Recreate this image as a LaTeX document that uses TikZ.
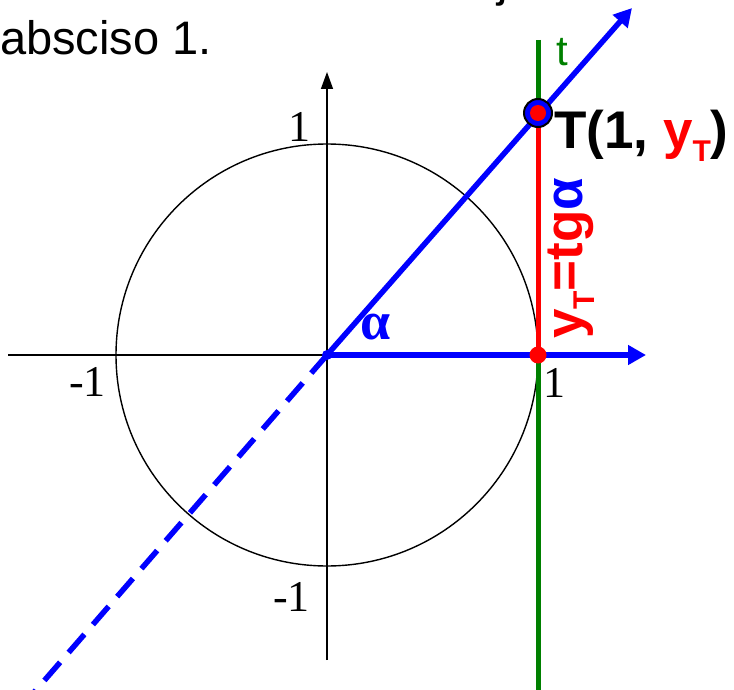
\documentclass[tikz,border=0pt]{standalone}
\usepackage{fontspec}
\setmainfont{Liberation Sans}
\newfontfamily\seriffont{Liberation Serif}
\usetikzlibrary{arrows.meta}
\definecolor{tgreen}{RGB}{0,128,0}
\definecolor{tblue}{RGB}{0,0,255}
\definecolor{tred}{RGB}{255,0,0}
\begin{document}
\begin{tikzpicture}[x=1pt,y=-1pt,
  axisline/.style={line width=1.4pt,black},
  bluethick/.style={line width=5.5pt,tblue},
  bluetip/.style={-{Triangle[length=18pt,width=19pt]}},
  reddot/.style={fill=tred,draw=none},
  axlabel/.style={font=\seriffont\fontsize{44}{50}\selectfont,inner sep=0pt},
  bigsans/.style={font=\fontsize{47}{56}\selectfont,inner sep=0pt}]
\useasboundingbox (0,0) rectangle (734,690);
% key points
\coordinate (O) at (327,355);
\coordinate (T) at (538,113);
\coordinate (A) at (538,355);
\coordinate (Xl) at (8,355);
\coordinate (Xr) at (640,355);
\coordinate (Yb) at (327,660);
\coordinate (Yt) at (327,72);
\coordinate (Dtip) at (632,8);
\coordinate (Dend) at (30,697);
\coordinate (Gt) at (538,40);
\coordinate (Gb) at (538,692);
\coordinate (Xtip) at (646,355);
% axes and circle
\draw[axisline] (Xl) -- (Xr);
\draw[axisline,-{Triangle[length=17pt,width=12pt]}] (Yb) -- (Yt);
\draw[axisline] (O) circle[radius=211pt];
% dashed extension
\draw[bluethick,dash pattern=on 24pt off 13pt] (O) -- (Dend);
% tangent line t
\draw[line width=5pt,tgreen] (Gt) -- (Gb);
% blue rays
\draw[bluethick,bluetip] (O) -- (Xtip);
\draw[bluethick,bluetip] (O) -- (Dtip);
\fill[tblue] (O) circle[radius=5pt];
% red segment
\draw[line width=5pt,tred] (A) -- (T);
\fill[reddot] (A) circle[radius=8.5pt];
\filldraw[fill=tblue,draw=black,line width=2pt] (T) circle[radius=14pt];
\fill[reddot] (T) circle[radius=8pt];
% texts
\node[bigsans,anchor=base west] (top) at (0,55) {absciso 1.};
\node[bigsans,anchor=base west] (jj) at (497,-3) {j};
\node[font=\fontsize{42}{50}\selectfont,text=tgreen,inner sep=0pt,anchor=base west] (tl) at (556,66) {t};
\node[font=\bfseries\fontsize{53}{60}\selectfont,inner sep=0pt,anchor=base west] (Tl) at (554,149)
  {T(1, \textcolor{tred}{y\raisebox{-0.24em}{\fontsize{30}{32}\selectfont T}})};
\node[font=\bfseries\fontsize{53}{60}\selectfont,inner sep=0pt,anchor=base west,rotate=90,text=tred] (yl) at (582,339)
  {y\raisebox{-0.24em}{\fontsize{30}{32}\selectfont T}=tg\textcolor{tblue}{α}};
\node[font=\seriffont\bfseries\fontsize{54}{60}\selectfont,text=tblue,inner sep=0pt,anchor=base west] (al) at (360,339) {α};
\node[axlabel,anchor=base east] (l1) at (311,142) {1};
\node[axlabel,anchor=base east] (lm1) at (106,396) {-1};
\node[axlabel,anchor=base west] (r1) at (543,397) {1};
\node[axlabel,anchor=base east] (bm1) at (310,611) {-1};
\end{tikzpicture}
\end{document}
